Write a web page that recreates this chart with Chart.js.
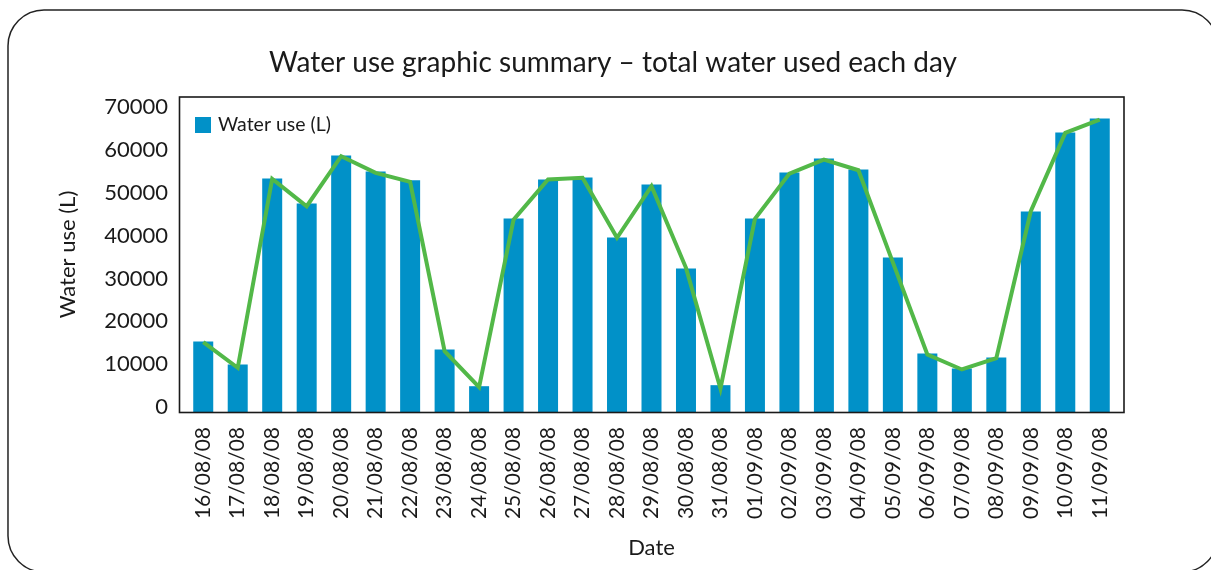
<!DOCTYPE html>
<html>
<head>
<meta charset="utf-8">
<script src="https://cdn.jsdelivr.net/npm/chart.js@4/dist/chart.umd.min.js"></script>
<style>
  html, body { margin: 0; padding: 0; background: #ffffff; }
  #wrap { width: 1211px; height: 570px; position: relative; }
</style>
</head>
<body>
<div id="wrap"><canvas id="c" width="1211" height="570"></canvas></div>
<script>
// ---- Data ----
const categories = ['16/08/08','17/08/08','18/08/08','19/08/08','20/08/08','21/08/08','22/08/08',
  '23/08/08','24/08/08','25/08/08','26/08/08','27/08/08','28/08/08','29/08/08','30/08/08',
  '31/08/08','01/09/08','02/09/08','03/09/08','04/09/08','05/09/08','06/09/08','07/09/08',
  '08/09/08','09/09/08','10/09/08','11/09/08'];
const waterUse = [16450, 11080, 54480, 48640, 59840, 56110, 54080,
  14580, 6020, 45140, 54240, 54710, 40710, 53080, 33480,
  6260, 45140, 55880, 59140, 56580, 36050, 13650, 10150,
  12710, 46780, 65210, 68470];
const trendLine = [16290, 10310, 54400, 48010, 59680, 55800, 53700,
  14180, 5790, 44900, 54240, 54640, 40640, 52690, 33640,
  5480, 45070, 55640, 58910, 56410, 34920, 13410, 9920,
  12550, 46850, 65140, 68240];
const yTicks = [0, 10000, 20000, 30000, 40000, 50000, 60000, 70000];
const seriesName = 'Water use (L)';
const chartTitle = 'Water use graphic summary \u2013 total water used each day';
const xTitle = 'Date';
const yTitle = 'Water use (L)';

// ---- Styles ----
const FONT = 'Lato, "Open Sans", "Noto Sans", sans-serif';
const BLUE = '#0191c8';
const GREEN = '#52b848';
const INK = '#1a1a1a';

const decor = {
  id: 'decor',
  beforeDraw(chart) {
    const ctx = chart.ctx;
    ctx.save();
    ctx.fillStyle = '#ffffff';
    ctx.fillRect(0, 0, chart.width, chart.height);
    // outer rounded panel
    ctx.strokeStyle = '#222';
    ctx.lineWidth = 1.5;
    ctx.beginPath();
    if (ctx.roundRect) {
      ctx.roundRect(8, 10, 1210, 562, 36);
    } else {
      ctx.rect(8, 10, 1210, 562);
    }
    ctx.stroke();
    ctx.restore();
  },
  afterDatasetsDraw(chart) {
    const ctx = chart.ctx;
    const a = chart.chartArea;
    ctx.save();
    // plot frame
    ctx.strokeStyle = INK;
    ctx.lineWidth = 1.6;
    ctx.strokeRect(a.left - 6.5, a.top, (a.right + 7) - (a.left - 6.5), a.bottom - a.top + 0.5);
    // legend inside the plot
    ctx.fillStyle = BLUE;
    ctx.fillRect(a.left + 9, a.top + 20, 16, 16);
    ctx.fillStyle = INK;
    ctx.font = '19.5px ' + FONT;
    ctx.textBaseline = 'middle';
    ctx.textAlign = 'left';
    ctx.fillText(seriesName, a.left + 32, a.top + 28);
    ctx.restore();
  }
};

new Chart(document.getElementById('c'), {
  data: {
    labels: categories,
    datasets: [
      {
        type: 'line',
        label: 'Trend',
        data: trendLine,
        borderColor: GREEN,
        borderWidth: 4,
        pointRadius: 0,
        tension: 0,
        fill: false,
        borderJoinStyle: 'miter',
        order: 0
      },
      {
        type: 'bar',
        label: seriesName,
        data: waterUse,
        backgroundColor: BLUE,
        borderWidth: 0,
        barPercentage: 0.58,
        categoryPercentage: 1.0,
        order: 1
      }
    ]
  },
  options: {
    responsive: false,
    animation: false,
    devicePixelRatio: 1,
    layout: { padding: { left: 55, right: 40, top: 0, bottom: 0 } },
    plugins: {
      legend: { display: false },
      tooltip: { enabled: false },
      title: {
        display: true,
        text: chartTitle,
        color: INK,
        font: { family: FONT, size: 28, weight: 'normal' },
        padding: { top: 46.2, bottom: 17.2 }
      }
    },
    scales: {
      x: {
        type: 'category',
        offset: true,
        grid: { display: false, drawTicks: false },
        border: { display: false },
        ticks: {
          autoSkip: false,
          maxRotation: 90,
          minRotation: 90,
          padding: 15,
          color: INK,
          font: { family: FONT, size: 21 }
        },
        title: {
          display: true,
          text: xTitle,
          color: INK,
          font: { family: FONT, size: 22 },
          padding: { top: 0, bottom: 8.8 }
        },
        afterFit(s) { s.height = 158; }
      },
      y: {
        type: 'linear',
        position: 'left',
        min: 0,
        max: 73500,
        grid: { display: false, drawTicks: false },
        border: { display: false },
        afterBuildTicks(s) { s.ticks = yTicks.map(v => ({ value: v })); },
        ticks: {
          padding: 18,
          labelOffset: -5,
          color: INK,
          font: { family: FONT, size: 22 },
          callback: v => String(v)
        },
        title: {
          display: true,
          text: yTitle,
          color: INK,
          font: { family: FONT, size: 22 },
          padding: { top: 0, bottom: 0 }
        },
        afterFit(s) { s.width = 131; }
      },
      yR: {
        type: 'linear',
        position: 'right',
        display: true,
        grid: { display: false, drawTicks: false },
        border: { display: false },
        ticks: { display: false },
        afterFit(s) { s.width = 54; }
      }
    }
  },
  plugins: [decor]
});
</script>
</body>
</html>
